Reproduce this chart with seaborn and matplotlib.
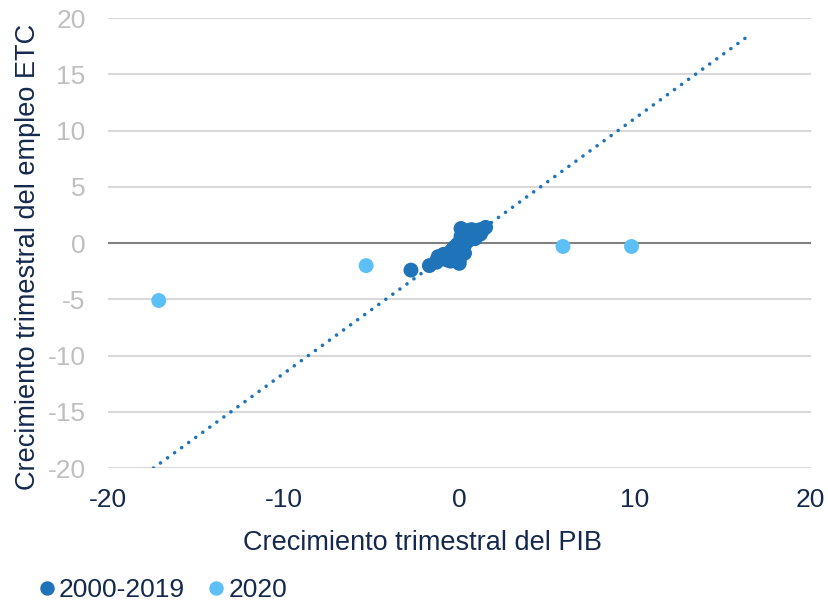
import numpy as np
import pandas as pd
import matplotlib
matplotlib.use("Agg")
import matplotlib.pyplot as plt
import seaborn as sns
from matplotlib.lines import Line2D

# 2000-2019 quarterly: GDP growth vs employment growth
gdp_0019 = [-2.75, -1.7, -1.3, -1.1, -0.9, -0.8, -0.6, -0.5, -0.4, -0.3, -0.2, -0.1,
            0.0, 0.0, 0.1, 0.2, 0.3, 0.4, 0.5, 0.6, 0.7, 0.8, 0.9, 1.0, 1.2, 1.5,
            -0.2, 0.1, 0.3, 0.5, 0.6, 0.8, -0.5, -0.9, 0.2, 0.4, 0.7, 0.9, -0.3, 0.0,
            0.1, 0.6, 0.3, -0.1, 0.5, -1.2, -0.7, 1.1,
            -0.2, 0.0, 0.3, 0.9, 1.2, -1.3, -0.5, 0.1, 1.3]
emp_0019 = [-2.4, -2.0, -1.6, -1.4, -1.3, -1.2, -1.0, -0.8, -0.6, -0.4, -0.3, -0.1,
            0.0, -1.5, 0.2, 0.3, 0.4, 0.5, 0.6, 0.8, 1.0, 1.1, 1.0, 1.1, 1.2, 1.4,
            -1.1, -0.8, -0.2, 0.2, 0.9, 0.7, -1.3, -1.0, 1.0, 0.8, 1.2, 0.6, -0.9, -0.5,
            0.6, 0.4, 0.1, -0.7, 1.1, -1.2, -1.5, 0.9,
            -1.6, -1.8, -0.9, 0.4, 0.8, -1.7, -1.6, 1.3, 1.1]
gdp_2020 = [-17.1, -5.3, 5.9, 9.8]
emp_2020 = [-5.1, -2.0, -0.3, -0.3]

# Linear trend line (Excel-style)
trend_x = [-17.4, 16.3]
trend_slope = 1.135
trend_intercept = -0.25

x_ticks = [-20, -10, 0, 10, 20]
y_ticks = [-20, -15, -10, -5, 0, 5, 10, 15, 20]
series_names = ["2000-2019", "2020"]

c_dark = "#1f74b9"
c_light = "#5cc0f7"
navy = "#14294d"

df = pd.DataFrame({
    "gdp": gdp_0019 + gdp_2020,
    "emp": emp_0019 + emp_2020,
    "serie": [series_names[0]] * len(gdp_0019) + [series_names[1]] * len(gdp_2020),
})
trend_y = [trend_slope * v + trend_intercept for v in trend_x]

sns.set_theme(style="white")
plt.rcParams["font.family"] = ["Liberation Sans", "DejaVu Sans"]
plt.rcParams["axes.unicode_minus"] = False

fig = plt.figure(figsize=(8.29, 6.04), dpi=100)
ax = fig.add_axes([0.130, 0.225, 0.848, 0.745])

for y in y_ticks:
    if y != 0:
        ax.axhline(y, color="#d9d9d9", lw=1.5, zorder=0)
ax.axhline(0, color="#808080", lw=1.5, zorder=1)

ax.plot(trend_x, trend_y, color=c_dark, lw=2.6, linestyle=(0, (0.01, 2.4)),
        dash_capstyle="round", zorder=2)

sns.scatterplot(data=df, x="gdp", y="emp", hue="serie",
                palette={series_names[0]: c_dark, series_names[1]: c_light},
                s=115, edgecolor="none", linewidth=0, ax=ax, zorder=3, legend=False)

ax.set_xlim(-20, 20)
ax.set_ylim(-20, 20)
ax.set_xticks(x_ticks)
ax.set_yticks(y_ticks)
ax.tick_params(axis="x", colors=navy, labelsize=19, length=0, pad=14)
ax.tick_params(axis="y", colors="#bfbfbf", labelsize=19, length=0, pad=16)
for lab in ax.get_xticklabels():
    lab.set_color(navy)
for lab in ax.get_yticklabels():
    lab.set_color("#bfbfbf")
for s in ax.spines.values():
    s.set_visible(False)

ax.set_xlabel("Crecimiento trimestral del PIB", color=navy, fontsize=19.5)
ax.set_ylabel("Crecimiento trimestral del empleo ETC", color=navy, fontsize=19.5)
ax.xaxis.set_label_coords((423 - 108) / 703, -0.138)
ax.yaxis.set_label_coords(-0.095, (468 - 257) / 450)

handles = [Line2D([], [], marker="o", linestyle="none", color=c_dark, markersize=9.4),
           Line2D([], [], marker="o", linestyle="none", color=c_light, markersize=9.4)]
leg = fig.legend(handles, series_names, loc="center left",
                 bbox_to_anchor=(0.018, 1 - 590 / 604),
                 ncol=2, frameon=False, fontsize=19, handletextpad=-0.15,
                 columnspacing=0.6, handlelength=1.2, borderaxespad=0.2)
for t in leg.get_texts():
    t.set_color(navy)

fig.savefig("out.png", dpi=100)
